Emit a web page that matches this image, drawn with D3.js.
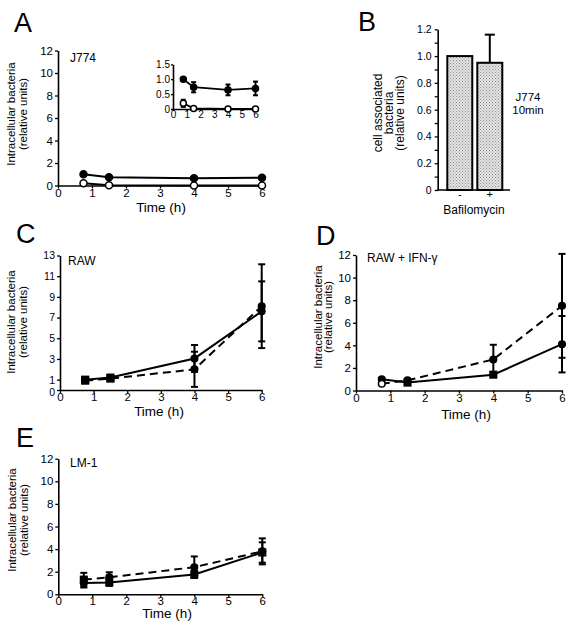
<!DOCTYPE html>
<html><head><meta charset="utf-8">
<script src="https://cdn.jsdelivr.net/npm/d3@7"></script>
<style>
body{margin:0;background:#fff}
svg{display:block}
text{font-family:"Liberation Sans",Arial,Helvetica,sans-serif;fill:#000}
</style>
</head><body>
<svg id="c" width="570" height="624"></svg>
<script>
// ---------- data ----------
const times = [0.75, 1.5, 4, 6];
const timeTicks = [0, 1, 2, 3, 4, 5, 6];

// Panel A (J774)
const aFilled = [1.0, 0.73, 0.64, 0.69];
const aFilledErr = [0.03, 0.17, 0.18, 0.23];
const aOpen = [0.19, 0.02, 0.0, 0.0];
const aOpenErr = [0.12, 0, 0, 0];
const aTicks = [0, 2, 4, 6, 8, 10, 12];
const aInsetTicks = [0, 0.5, 1.0, 1.5];

// Panel B (J774 10min)
const bCats = ["-", "+"];
const bValues = [1.0, 0.95];
const bErr = [0, 0.21];
const bTicks = [0, 0.1, 0.2, 0.3, 0.4, 0.5, 0.6, 0.7, 0.8, 0.9, 1.0, 1.1, 1.2];

// Panel C (RAW)
const cSolid = [1.0, 1.2, 3.05, 7.6];
const cSolidErr = [0.1, 0.1, 1.3, 2.9];
const cDashed = [0.9, 1.1, 2.0, 8.1];
const cDashedErr = [0.1, 0.1, 1.7, 4.05];
const cTicks = [0, 1, 3, 5, 7, 9, 11, 13];

// Panel D (RAW + IFN-γ)
const dSolid = [1.0, 0.7, 1.4, 4.1];
const dSolidErr = [0.1, 0.1, 0.2, 2.5];
const dDashed = [0.6, 0.9, 2.75, 7.5];
const dDashedErr = [0.1, 0.1, 1.3, 4.6];
const dTicks = [0, 2, 4, 6, 8, 10, 12];

// Panel E (LM-1)
const eSolid = [1.0, 1.05, 1.75, 3.7];
const eSolidErr = [0.4, 0.3, 0.3, 0.9];
const eDashed = [1.3, 1.5, 2.4, 3.8];
const eDashedErr = [0.6, 0.45, 0.95, 1.15];
const eTicks = [0, 2, 4, 6, 8, 10, 12];

// ---------- drawing ----------
const svg = d3.select("#c");
const defs = svg.append("defs");
const pat = defs.append("pattern").attr("id", "stip").attr("width", 3).attr("height", 3)
  .attr("patternUnits", "userSpaceOnUse");
pat.append("rect").attr("width", 3).attr("height", 3).attr("fill", "#e4e4e4");
pat.append("rect").attr("x", 0).attr("y", 0).attr("width", 1).attr("height", 1).attr("fill", "#8a8a8a");
pat.append("rect").attr("x", 1.5).attr("y", 1.5).attr("width", 1).attr("height", 1).attr("fill", "#9a9a9a");

function styleAxis(g, fs) {
  g.select(".domain").attr("stroke", "#000").attr("stroke-width", 1.6);
  g.selectAll(".tick line").attr("stroke", "#000").attr("stroke-width", 1.3);
  g.selectAll(".tick text").attr("font-size", fs).attr("fill", "#000")
    .style("font-family", '"Liberation Sans",Arial,sans-serif');
}

function marker(g, cx, cy, type, r) {
  if (type.startsWith("circle")) {
    g.append("circle").attr("cx", cx).attr("cy", cy).attr("r", r)
      .attr("fill", type.endsWith("open") ? "#fff" : "#000")
      .attr("stroke", "#000").attr("stroke-width", 1.5);
  } else {
    g.append("rect").attr("x", cx - r).attr("y", cy - r).attr("width", 2 * r).attr("height", 2 * r)
      .attr("fill", type.endsWith("open") ? "#fff" : "#000")
      .attr("stroke", "#000").attr("stroke-width", 1.5);
  }
}

function timePanel(cfg) {
  const g = svg.append("g");
  const x = d3.scaleLinear().domain([0, 6]).range([cfg.x0, cfg.x1]);
  const y = d3.scaleLinear().domain([0, cfg.ymax]).range([cfg.yb, cfg.yt]);
  const ya = g.append("g").attr("transform", `translate(${cfg.x0},0)`)
    .call(d3.axisLeft(y).tickValues(cfg.yTicks).tickSize(cfg.tick || 3).tickSizeOuter(0).tickPadding(cfg.ypad || 2)
      .tickFormat(cfg.yFmt || d3.format("d")));
  styleAxis(ya, cfg.yfs || cfg.fs);
  if (cfg.zeroShift) ya.selectAll(".tick").filter(d => d === 0).select("text").attr("dy", "0.5em");
  const xa = g.append("g").attr("transform", `translate(0,${cfg.yb})`)
    .call(d3.axisBottom(x).tickValues(timeTicks).tickSize(cfg.tick || 3).tickSizeOuter(0).tickPadding(0)
      .tickFormat(d3.format("d")));
  styleAxis(xa, cfg.fs);

  cfg.series.forEach(s => {
    const pts = times.map((t, i) => ({t, v: s.values[i], e: s.errs[i]}));
    if (cfg.showErr) {
      pts.forEach(p => {
        if (p.e > 0) {
          const y1 = y(Math.max(0, p.v - p.e)), y2 = y(p.v + p.e), cx = x(p.t);
          g.append("line").attr("x1", cx).attr("x2", cx).attr("y1", y1).attr("y2", y2)
            .attr("stroke", "#000").attr("stroke-width", cfg.errW || 2);
          [y1, y2].forEach(yy => g.append("line").attr("x1", cx - cfg.cap).attr("x2", cx + cfg.cap)
            .attr("y1", yy).attr("y2", yy).attr("stroke", "#000").attr("stroke-width", cfg.errW || 2));
        }
      });
    }
    g.append("path").datum(pts)
      .attr("d", d3.line().x(p => x(p.t)).y(p => y(p.v)))
      .attr("fill", "none").attr("stroke", "#000").attr("stroke-width", cfg.lineW || 2)
      .attr("stroke-dasharray", s.dashed ? "8,5" : null);
  });
  cfg.series.forEach(s => {
    times.forEach((t, i) => marker(g, x(t), y(s.values[i]), s.marks[i], cfg.r));
  });
  return {g, x, y};
}

function text(x, y, s, fs, anchor, weight) {
  return svg.append("text").attr("x", x).attr("y", y).attr("font-size", fs)
    .attr("text-anchor", anchor || "start").attr("font-weight", weight || "normal").text(s);
}
function yLabel(xb1, xb2, cy, lines, fs) {
  const xs = [xb1, xb2, (xb2 - xb1) + xb2];
  lines.forEach((l, i) => {
    svg.append("text").attr("transform", `translate(${xs[i]},${cy}) rotate(-90)`)
      .attr("text-anchor", "middle").attr("font-size", fs).text(l);
  });
}
const yl = ["Intracellular bacteria", "(relative units)"];

// ---- Panel A ----
timePanel({x0: 58, x1: 262, yb: 185.5, yt: 50.5, ymax: 12, yTicks: aTicks, fs: 11.5, r: 3.5, showErr: false,
  series: [
    {values: aFilled, errs: aFilledErr, dashed: false, marks: ["circle", "circle", "circle", "circle"]},
    {values: aOpen, errs: aOpenErr, dashed: false, marks: ["circle-open", "circle-open", "circle-open", "circle-open"]}
  ]});
timePanel({x0: 173, x1: 255.5, yb: 109, yt: 64.3, ymax: 1.5, yTicks: aInsetTicks, fs: 10, r: 3, showErr: true,
  cap: 2.5, tick: 2, ypad: 1, lineW: 1.8,
  yFmt: d => d === 0 ? "0" : d3.format(".1f")(d),
  series: [
    {values: aFilled, errs: aFilledErr, dashed: false, marks: ["circle", "circle", "circle", "circle"]},
    {values: aOpen, errs: aOpenErr, dashed: false, marks: ["circle-open", "circle-open", "circle-open", "circle-open"]}
  ]});
text(14, 32, "A", 27);
text(70, 62, "J774", 12);
yLabel(15, 26.5, 114, yl, 11.5);
text(161, 212, "Time (h)", 13.5, "middle");

// ---- Panel B ----
{
  const y = d3.scaleLinear().domain([0, 1.2]).range([190, 29.3]);
  const x = d3.scaleBand().domain(bCats).range([447.3, 502.3]).paddingInner(0.167).paddingOuter(0);
  const g = svg.append("g");
  bCats.forEach((c, i) => {
    g.append("rect").attr("x", x(c)).attr("y", y(bValues[i])).attr("width", x.bandwidth())
      .attr("height", y(0) - y(bValues[i])).attr("fill", "url(#stip)").attr("stroke", "#000").attr("stroke-width", 2);
    if (bErr[i] > 0) {
      const cx = x(c) + x.bandwidth() / 2;
      g.append("line").attr("x1", cx).attr("x2", cx).attr("y1", y(bValues[i])).attr("y2", y(bValues[i] + bErr[i]))
        .attr("stroke", "#000").attr("stroke-width", 2);
      g.append("line").attr("x1", cx - 5).attr("x2", cx + 5).attr("y1", y(bValues[i] + bErr[i])).attr("y2", y(bValues[i] + bErr[i]))
        .attr("stroke", "#000").attr("stroke-width", 2);
    }
  });
  const ya = g.append("g").attr("transform", "translate(437.7,0)")
    .call(d3.axisLeft(y).tickValues(bTicks).tickSize(3).tickSizeOuter(0).tickPadding(3)
      .tickFormat(d => (Math.round(d * 10) % 2 === 0) ? (d === 0 ? "0" : d3.format(".1f")(d)) : ""));
  styleAxis(ya, 10.5);
  const xa = g.append("g").attr("transform", "translate(0,190)")
    .call(d3.axisBottom(x).tickSize(0).tickSizeOuter(0).tickPadding(0));
  xa.select(".domain").remove();
  g.append("line").attr("x1", 437).attr("x2", 510).attr("y1", 190).attr("y2", 190).attr("stroke", "#000").attr("stroke-width", 1.6);
  styleAxis(xa, 11);
  text(358, 31, "B", 27);
  text(474, 214, "Bafilomycin", 12, "middle");
  text(528, 101, "J774", 11.5, "middle");
  text(528, 114, "10min", 11.5, "middle");
  yLabel(382, 393, 113, ["cell associated", "bacteria", "(relative units)"], 12);
}

// ---- Panel C ----
timePanel({x0: 60, x1: 261.7, yb: 390, yt: 255.5, ymax: 13, yTicks: cTicks, fs: 11.5, yfs: 10.5, zeroShift: true,
  r: 3.3, showErr: true, cap: 3.5,
  series: [
    {values: cSolid, errs: cSolidErr, dashed: false, marks: ["square-open", "square-open", "circle", "circle"]},
    {values: cDashed, errs: cDashedErr, dashed: true, marks: ["square", "square", "circle", "circle"]}
  ]});
text(16, 243, "C", 27);
text(68, 265, "RAW", 12);
yLabel(15, 26.5, 322, yl, 11.5);
text(159, 416, "Time (h)", 13.5, "middle");

// ---- Panel D ----
timePanel({x0: 356, x1: 562, yb: 390.5, yt: 255, ymax: 12, yTicks: dTicks, fs: 11.5, r: 3.3, showErr: true, cap: 3.5,
  series: [
    {values: dSolid, errs: dSolidErr, dashed: false, marks: ["circle", "square", "square", "circle"]},
    {values: dDashed, errs: dDashedErr, dashed: true, marks: ["circle-open", "circle", "circle", "circle"]}
  ]});
text(316, 245, "D", 27);
text(367, 262, "RAW + IFN-γ", 12);
yLabel(322, 332, 317, yl, 11.5);
text(466, 419, "Time (h)", 13.5, "middle");

// ---- Panel E ----
timePanel({x0: 58.3, x1: 262.3, yb: 594.3, yt: 458.7, ymax: 12, yTicks: eTicks, fs: 11.5, r: 3.3, showErr: true, cap: 3.5,
  series: [
    {values: eSolid, errs: eSolidErr, dashed: false, marks: ["circle", "square", "square", "square-open"]},
    {values: eDashed, errs: eDashedErr, dashed: true, marks: ["square", "circle", "circle", "circle"]}
  ]});
text(16, 447, "E", 27);
text(70, 467, "LM-1", 12);
yLabel(16, 27.5, 520, yl, 11.5);
text(167, 618, "Time (h)", 13.5, "middle");
</script>
</body></html>
